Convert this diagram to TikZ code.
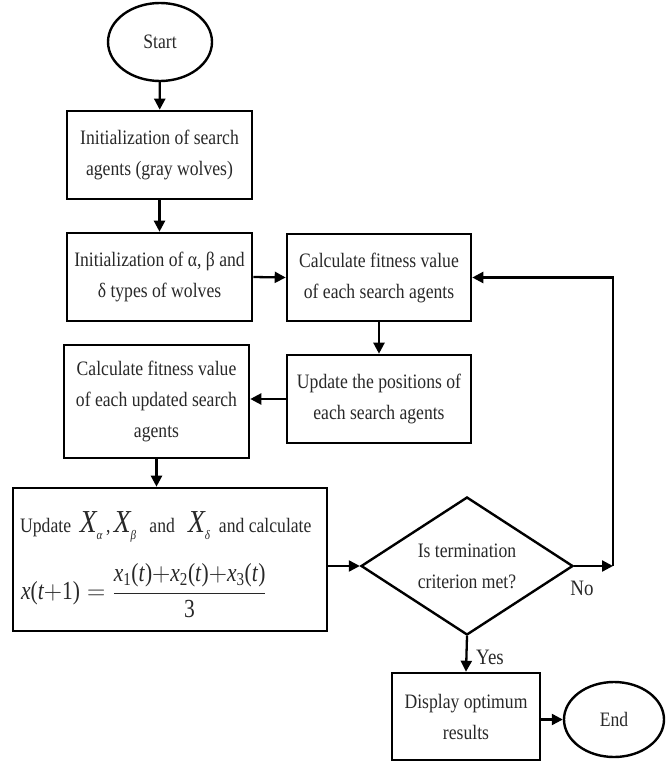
\documentclass[tikz,border=0pt]{standalone}
\usepackage{amsmath}
\usepackage{fontspec}
\setmainfont[FakeStretch=0.86]{Liberation Serif}
\usetikzlibrary{shapes.geometric,arrows.meta}
\definecolor{txt}{RGB}{40,40,40}
\newcommand\xit[1]{\text{\itshape #1}}
\newcommand\tpar{\text{(\itshape t\/\upshape)}}
\newcommand\bigX[1]{{\fontsize{32}{32}\selectfont\itshape X}\raisebox{-7pt}{\fontsize{13}{13}\selectfont\itshape #1}}
\begin{document}
\begin{tikzpicture}[x=1pt,y=-1pt,
  box/.style={draw,line width=2.6pt,rectangle,inner sep=0pt,align=center,font=\fontsize{20.5}{31}\selectfont,text=txt},
  term/.style={draw,line width=2.4pt,ellipse,inner sep=0pt,font=\fontsize{20.5}{24}\selectfont,text=txt},
  dia/.style={draw,line width=2.4pt,diamond,aspect=1.536,inner sep=0pt,align=center,font=\fontsize{20.5}{31}\selectfont,text=txt},
  arr/.style={line width=2.3pt,-{Triangle[length=11pt,width=11pt]}},
  lab/.style={font=\fontsize{22}{24}\selectfont,text=txt},
  plain/.style={inner sep=0pt,font=\fontsize{20.5}{24}\selectfont,text=txt}]
\useasboundingbox (0,0) rectangle (666,762);

\node[term,minimum width=104pt,minimum height=78pt] (start) at (160,42) {Start};
\node[box,minimum width=185pt,minimum height=88pt] (init) at (159.5,155) {Initialization of search\\agents (gray wolves)};
\node[box,minimum width=185pt,minimum height=88pt] (initab) at (159.5,277) {Initialization of α, β and\\δ types of wolves};
\node[box,minimum width=184pt,minimum height=87pt] (fit) at (379,277.5) {Calculate fitness value\\of each search agents};
\node[box,minimum width=184pt,minimum height=88pt] (upd) at (379,399) {Update the positions of\\each search agents};
\node[box,minimum width=185pt,minimum height=113pt] (fitu) at (156.5,401.5) {Calculate fitness value\\of each updated search\\agents};
\node[box,minimum width=314pt,minimum height=143pt] (big) at (170,559.5) {};
\node[plain,anchor=base west] (l1) at (20,532) {Update\ \ \bigX{α}\,,\,\bigX{β}\ \ \ and\ \ \ \bigX{δ}\ \ and calculate};
\node[plain,anchor=west] (fml) at (21,591) {\scalebox{1.22}[1.27]{$\xit{x}\text{(\itshape t}{+}\text{1)}=\dfrac{\xit{x}_{\text{1}}\tpar{+}\xit{x}_{\text{2}}\tpar{+}\xit{x}_{\text{3}}\tpar}{\text{3}}$}};
\node[dia,minimum width=212pt,minimum height=138pt] (dec) at (467,566) {Is termination\\criterion met?};
\node[box,minimum width=148pt,minimum height=87pt] (disp) at (466,716.5) {Display optimum\\results};
\node[term,minimum width=100pt,minimum height=75pt] (endn) at (614,719.5) {End};

\coordinate (lp) at (613,566);

\draw[arr] (start) -- (init);
\draw[arr] (init) -- (initab);
\draw[arr] (initab.east) -- (fit.west);
\draw[arr] (fit.south) -- (upd.north);
\draw[arr] (upd.west) -- (fitu.east |- upd.west);
\draw[arr] (fitu.south) -- (fitu.south |- big.north);
\draw[arr] (dec.west -| big.east) -- (dec.west);
\draw[arr] (dec.east) -- (lp);
\draw[arr] (lp) |- (fit.east);
\draw[arr] (dec.south) -- (disp.north);
\draw[arr] (disp.east |- endn.west) -- (endn.west);

\node[lab] (no) at (582,588) {No};
\node[lab] (yes) at (490,657) {Yes};
\end{tikzpicture}
\end{document}
